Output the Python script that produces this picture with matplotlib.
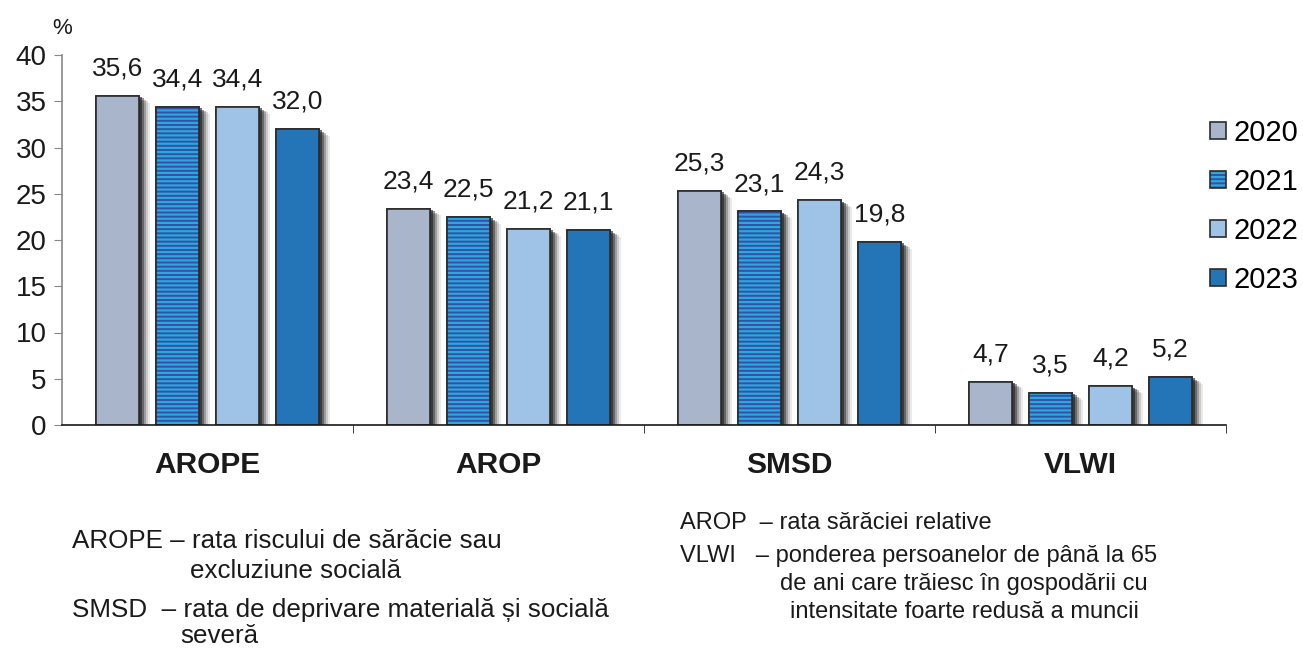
import matplotlib
matplotlib.use("Agg")
import matplotlib.pyplot as plt
import matplotlib.patheffects as pe
import numpy as np

plt.rcParams['font.family'] = ['Liberation Sans', 'DejaVu Sans']
plt.rcParams['hatch.linewidth'] = 1.6

categories = ["AROPE", "AROP", "SMSD", "VLWI"]
years = ["2020", "2021", "2022", "2023"]
values = {
    "2020": [35.6, 23.4, 25.3, 4.7],
    "2021": [34.4, 22.5, 23.1, 3.5],
    "2022": [34.4, 21.2, 24.3, 4.2],
    "2023": [32.0, 21.1, 19.8, 5.2],
}
yticks = [0, 5, 10, 15, 20, 25, 30, 35, 40]

colors = {"2020": "#a9b5ca", "2021": "#3a4ea2", "2022": "#9fc3e6", "2023": "#2474b8"}
hatches = {"2020": None, "2021": "----", "2022": None, "2023": None}

W, H = 1303, 648
fig = plt.figure(figsize=(W/100, H/100), dpi=100)
ax = fig.add_axes([62/W, 1-425/H, (1226-62)/W, (425-55)/H])

x = np.arange(len(categories))
width = 0.148
offsets = [-0.309, -0.103, 0.103, 0.309]
shadow = [pe.SimplePatchShadow(offset=(8, -5), shadow_rgbFace='#999999', alpha=0.2),
          pe.SimplePatchShadow(offset=(6.5, -4), shadow_rgbFace='#777777', alpha=0.28),
          pe.SimplePatchShadow(offset=(5, -3), shadow_rgbFace='#555555', alpha=0.38),
          pe.SimplePatchShadow(offset=(3.5, -2), shadow_rgbFace='#333333', alpha=0.5),
          pe.SimplePatchShadow(offset=(2, -1), shadow_rgbFace='#222222', alpha=0.65),
          pe.Normal()]
handles = []
for yr, off in zip(years, offsets):
    # base layer carrying the soft shadow (no hatch)
    base = ax.bar(x + off, values[yr], width, color=colors[yr], edgecolor='#2b2b2b',
                  linewidth=1.2, zorder=2)
    for b in base:
        b.set_path_effects(shadow)
    bars = ax.bar(x + off, values[yr], width, color=colors[yr], edgecolor='#2b2b2b',
                  linewidth=1.2, hatch=hatches[yr], label=yr, zorder=3)
    if hatches[yr]:
        for b in bars:
            b._hatch_color = matplotlib.colors.to_rgba('#27a9e1')
    for xi, v in zip(x + off, values[yr]):
        ax.annotate(f"{v:.1f}".replace('.', ','), (xi, v), xytext=(0, 11),
                    textcoords='offset points', ha='center', va='bottom',
                    fontsize=19, color='#1a1a1a')
    handles.append(bars)

ax.set_xlim(-0.5, 3.5)
ax.set_ylim(0, 40)
ax.set_yticks(yticks)
ax.set_yticklabels([str(t) for t in yticks], fontsize=20, color='#1a1a1a')
ax.set_xticks(x)
ax.set_xticklabels(categories, fontsize=21.5, fontweight='bold', color='#1a1a1a')
ax.tick_params(axis='x', length=0, pad=19)
ax.set_xticks([0.5, 1.5, 2.5, 3.5], minor=True)
ax.tick_params(axis='x', which='minor', length=6, color='#1a1a1a')
ax.tick_params(axis='y', length=6, color='#888888', pad=5)
for s in ['top', 'right']:
    ax.spines[s].set_visible(False)
ax.spines['left'].set_color('#888888')
ax.spines['left'].set_linewidth(1.2)
ax.spines['bottom'].set_color('#1a1a1a')
ax.spines['bottom'].set_linewidth(1.2)
ax.spines['bottom'].set_zorder(4)

fig.text(62/W, 1-28/H, "%", fontsize=16, ha='center', va='center', color='#1a1a1a')

leg = fig.legend(handles=handles, labels=years, loc='upper left',
                 bbox_to_anchor=(1210/W, 1-119/H), frameon=False, fontsize=21,
                 handlelength=0.55, handleheight=0.55, handletextpad=0.25,
                 labelspacing=0.72, borderpad=0, borderaxespad=0)

tc = '#1a1a1a'
fl = 18.7
fr = 17
fig.text(72/W, 1-541/H, "AROPE – rata riscului de sărăcie sau", fontsize=fl, va='center', color=tc)
fig.text(190/W, 1-571/H, "excluziune socială", fontsize=fl, va='center', color=tc)
fig.text(72/W, 1-610/H, "SMSD  – rata de deprivare materială și socială", fontsize=fl, va='center', color=tc)
fig.text(180/W, 1-636/H, "severă", fontsize=fl, va='center', color=tc)
fig.text(680/W, 1-523/H, "AROP  – rata sărăciei relative", fontsize=fr, va='center', color=tc)
fig.text(680/W, 1-556/H, "VLWI   – ponderea persoanelor de până la 65", fontsize=fr, va='center', color=tc)
fig.text(964/W, 1-584/H, "de ani care trăiesc în gospodării cu", fontsize=fr, va='center', ha='center', color=tc)
fig.text(964/W, 1-612/H, "intensitate foarte redusă a muncii", fontsize=fr, va='center', ha='center', color=tc)

fig.savefig("out.png", dpi=100)
